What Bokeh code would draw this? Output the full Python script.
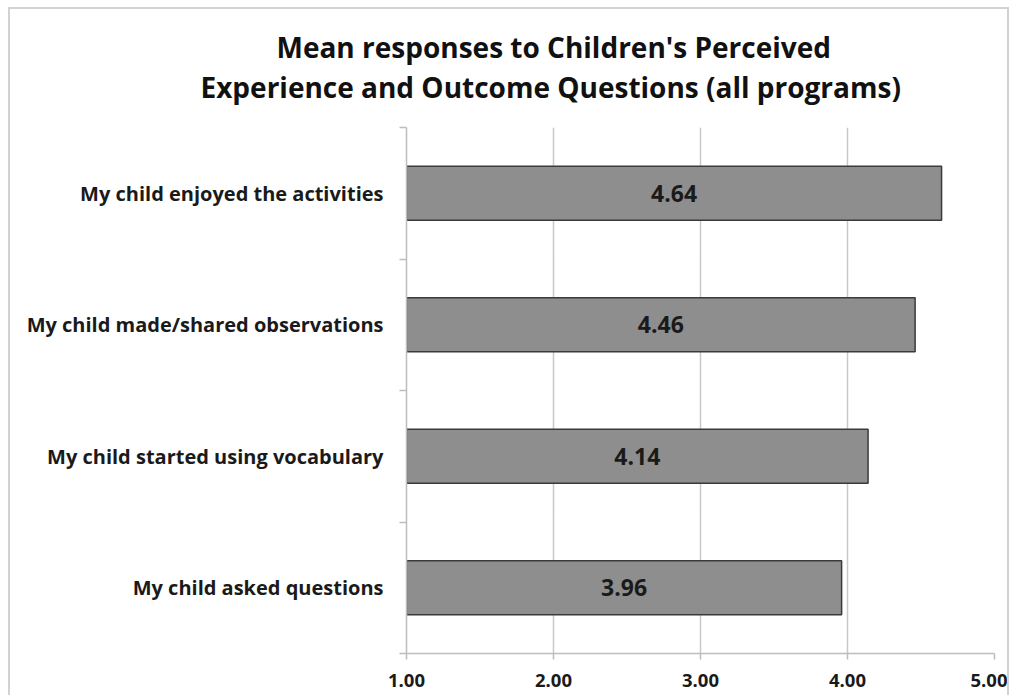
from bokeh.plotting import figure
from bokeh.models import ColumnDataSource, Range1d, FixedTicker, Title
from bokeh.core.properties import value
from bokeh.embed import file_html
from bokeh.resources import INLINE

# Data (bottom to top)
categories = ["My child asked questions",
              "My child started using vocabulary",
              "My child made/shared observations",
              "My child enjoyed the activities"]
means = [3.96, 4.14, 4.46, 4.64]
x_ticks = [1, 2, 3, 4, 5]
x_tick_labels = ["1.00", "2.00", "3.00", "4.00", "5.00"]
title_lines = ["Mean responses to Children's Perceived",
               "Experience and Outcome Questions (all programs)"]

FONT = "Open Sans"
TXT = "#1a1a1a"
AX = "#bdbdbd"
BORDER = "2px solid #d2d2d2"

centers = [i + 0.5 for i in range(len(categories))]
src = ColumnDataSource(dict(
    y=centers,
    right=means,
    mid=[(1 + m) / 2 for m in means],
    label=["%.2f" % m for m in means],
))

p = figure(width=1001, height=688, output_backend="svg", toolbar_location=None,
           x_range=Range1d(1, 5), y_range=Range1d(0, len(categories)),
           min_border_left=396, min_border_right=17, min_border_top=118,
           min_border_bottom=44)
p.styles = {"margin-left": "8px", "margin-top": "7px",
            "border-top": BORDER, "border-left": BORDER, "border-right": BORDER}

p.outline_line_color = None
p.background_fill_color = "white"
p.border_fill_color = "white"

p.hbar(y="y", left=1, right="right", height=0.41, source=src,
       fill_color="#8e8e8e", line_color="#3a3a3a", line_width=1.5)

p.text(x="mid", y="y", text="label", source=src, text_align="center",
       text_baseline="middle", text_font=value(FONT), text_font_style="bold",
       text_font_size="23px", text_color=TXT)

# spacer between frame and title (nearest the frame)
spacer = Title(text=" ", text_font_size="1px", standoff=19)
p.add_layout(spacer, "above")

# second title line (next out)
t2 = Title(text=title_lines[1], align="left", offset=-206, text_font=FONT,
           text_font_style="bold", text_font_size="28px", text_color="#111111",
           standoff=0)
p.add_layout(t2, "above")

# first title line (outermost)
p.title.text = title_lines[0]
p.title.align = "left"
p.title.offset = -130
p.title.text_font = FONT
p.title.text_font_style = "bold"
p.title.text_font_size = "28px"
p.title.text_color = "#111111"
p.title.standoff = 0

# x axis
p.xaxis.ticker = FixedTicker(ticks=x_ticks)
p.xaxis.major_label_overrides = {t: l for t, l in zip(x_ticks, x_tick_labels)}
p.xaxis.major_label_text_font = FONT
p.xaxis.major_label_text_font_style = "bold"
p.xaxis.major_label_text_font_size = "18.5px"
p.xaxis.major_label_text_color = TXT
p.xaxis.axis_line_color = AX
p.xaxis.axis_line_width = 1.5
p.xaxis.major_tick_line_color = AX
p.xaxis.major_tick_line_width = 1.5
p.xaxis.major_tick_out = 6
p.xaxis.major_tick_in = 0
p.xaxis.minor_tick_line_color = None
p.xaxis.major_label_standoff = 14

# y axis: labels at centers, ticks at category boundaries
p.yaxis.ticker = FixedTicker(ticks=centers, minor_ticks=list(range(len(categories) + 1)))
p.yaxis.major_label_overrides = {c: n for c, n in zip(centers, categories)}
p.yaxis.major_label_text_font = FONT
p.yaxis.major_label_text_font_style = "bold"
p.yaxis.major_label_text_font_size = "20px"
p.yaxis.major_label_text_color = TXT
p.yaxis.axis_line_color = AX
p.yaxis.axis_line_width = 1.5
p.yaxis.major_tick_line_color = None
p.yaxis.major_tick_out = 0
p.yaxis.major_tick_in = 0
p.yaxis.minor_tick_line_color = AX
p.yaxis.minor_tick_line_width = 1.5
p.yaxis.minor_tick_out = 7
p.yaxis.minor_tick_in = 0
p.yaxis.major_label_standoff = 16

p.xgrid.ticker = FixedTicker(ticks=x_ticks[1:])
p.xgrid.grid_line_color = "#c8c8c8"
p.xgrid.grid_line_width = 1.5
p.ygrid.grid_line_color = None

open("out.html", "w").write(file_html(p, INLINE))
